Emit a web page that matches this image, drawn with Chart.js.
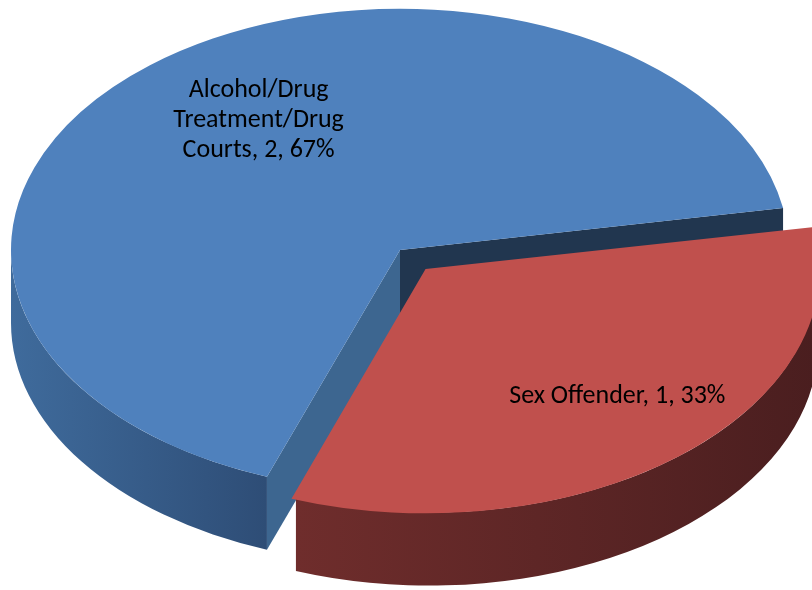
<!DOCTYPE html>
<html>
<head>
<meta charset="utf-8">
<script src="https://cdn.jsdelivr.net/npm/chart.js@4.4.1/dist/chart.umd.min.js"></script>
<style>
  html, body { margin: 0; padding: 0; background: #ffffff; }
  #wrap { width: 812px; height: 590px; }
</style>
</head>
<body>
<div id="wrap"><canvas id="c" width="812" height="590"></canvas></div>
<script>
// ---- data ----
const categories = ['Alcohol/Drug Treatment/Drug Courts', 'Sex Offender'];
const values = [2, 1];
const percents = ['67%', '33%'];
const labelLines = [
  ['Alcohol/Drug', 'Treatment/Drug', 'Courts, ' + values[0] + ', ' + percents[0]],
  ['Sex Offender, ' + values[1] + ', ' + percents[1]]
];

// ---- styling ----
const topColors = ['#4F81BD', '#C0504D'];
const wallColors = [['#3F6B9C', '#2E4D76'], ['#6F2D2C', '#4A1E1F']];
const startFaceColors = ['#3D6690', '#8E3B39'];
const endFaceColors = ['#21364F', '#5A2322'];
const TILT = 0.62;     // vertical squash of the pie top
const DEPTH = 73;      // thickness of the pie in pixels
const labelPlacement = [ { r: 0.65, shift: 6 }, { r: 0.71, shift: -3 } ];

function arcGeom(arc, cy) {
  const p = arc.getProps(['x', 'y', 'startAngle', 'endAngle', 'outerRadius', 'circumference'], true);
  const o = (arc.options.offset || 0) / 4;
  const fix = 1 - Math.sin(Math.min(Math.PI, p.circumference || 0));
  const t = o * (1 + fix);
  const h = (p.startAngle + p.endAngle) / 2;
  const ux = p.x + Math.cos(h) * t;
  const uy = p.y + Math.sin(h) * t;
  return { s: p.startAngle, e: p.endAngle, h, R: p.outerRadius, ux, sy: cy + TILT * (uy - cy) };
}

function rim(g, a, r) {
  r = (r === undefined) ? g.R : r;
  return [g.ux + r * Math.cos(a), g.sy + TILT * r * Math.sin(a)];
}

function drawFace(ctx, g, a, color) {
  const p = rim(g, a);
  ctx.beginPath();
  ctx.moveTo(g.ux, g.sy);
  ctx.lineTo(p[0], p[1]);
  ctx.lineTo(p[0], p[1] + DEPTH);
  ctx.lineTo(g.ux, g.sy + DEPTH);
  ctx.closePath();
  ctx.fillStyle = color;
  ctx.fill();
}

function drawWalls(ctx, g, i) {
  const TAU = Math.PI * 2;
  for (let n = -1; n <= 2; n++) {
    const lo = Math.max(g.s, n * TAU);
    const hi = Math.min(g.e, n * TAU + Math.PI);
    if (lo < hi) {
      const x1 = g.ux + g.R * Math.cos(lo), x2 = g.ux + g.R * Math.cos(hi);
      let minX = Math.min(x1, x2), maxX = Math.max(x1, x2);
      if (lo <= n * TAU + Math.PI && hi >= n * TAU + Math.PI) minX = g.ux - g.R;
      if (lo <= n * TAU && hi >= n * TAU) maxX = g.ux + g.R;
      const grad = ctx.createLinearGradient(minX, 0, maxX, 0);
      grad.addColorStop(0, wallColors[i][0]);
      grad.addColorStop(1, wallColors[i][1]);
      ctx.beginPath();
      ctx.ellipse(g.ux, g.sy, g.R, g.R * TILT, 0, lo, hi, false);
      ctx.ellipse(g.ux, g.sy + DEPTH, g.R, g.R * TILT, 0, hi, lo, true);
      ctx.closePath();
      ctx.fillStyle = grad;
      ctx.fill();
    }
  }
  // radial cut faces (only those facing the viewer)
  if (Math.cos(g.s) < 0) drawFace(ctx, g, g.s, startFaceColors[i]);
  if (Math.cos(g.e) > 0) drawFace(ctx, g, g.e, endFaceColors[i]);
}

const pie3d = {
  id: 'pie3d',
  beforeDatasetsDraw(chart) {
    const ctx = chart.ctx;
    const meta = chart.getDatasetMeta(0);
    const cy = meta.data[0].y;
    meta.data.forEach((arc, i) => drawWalls(ctx, arcGeom(arc, cy), i));
    ctx.save();
    ctx.translate(0, cy);
    ctx.scale(1, TILT);
    ctx.translate(0, -cy);
  },
  afterDatasetsDraw(chart) {
    const ctx = chart.ctx;
    ctx.restore();
    const meta = chart.getDatasetMeta(0);
    const cy = meta.data[0].y;
    ctx.save();
    ctx.fillStyle = '#000000';
    ctx.font = '26px Carlito, Lato, "Liberation Sans Narrow", sans-serif';
    ctx.textAlign = 'center';
    ctx.textBaseline = 'middle';
    meta.data.forEach((arc, i) => {
      const g = arcGeom(arc, cy);
      const pl = labelPlacement[i];
      const p = rim(g, g.h + pl.shift * Math.PI / 180, g.R * pl.r);
      const lines = labelLines[i];
      const lh = 30;
      lines.forEach((ln, k) => {
        ctx.fillText(ln, p[0], p[1] + (k - (lines.length - 1) / 2) * lh);
      });
    });
    ctx.restore();
  }
};

new Chart(document.getElementById('c'), {
  type: 'pie',
  data: {
    labels: categories,
    datasets: [{
      data: values,
      backgroundColor: topColors,
      borderWidth: 0,
      offset: [0, 159],
      clip: false
    }]
  },
  options: {
    responsive: false,
    animation: false,
    rotation: 200,
    radius: 389,
    layout: { padding: { left: 0, right: 12, top: 0, bottom: 90 } },
    plugins: { legend: { display: false }, tooltip: { enabled: false } },
    events: []
  },
  plugins: [pie3d]
});
</script>
</body>
</html>
